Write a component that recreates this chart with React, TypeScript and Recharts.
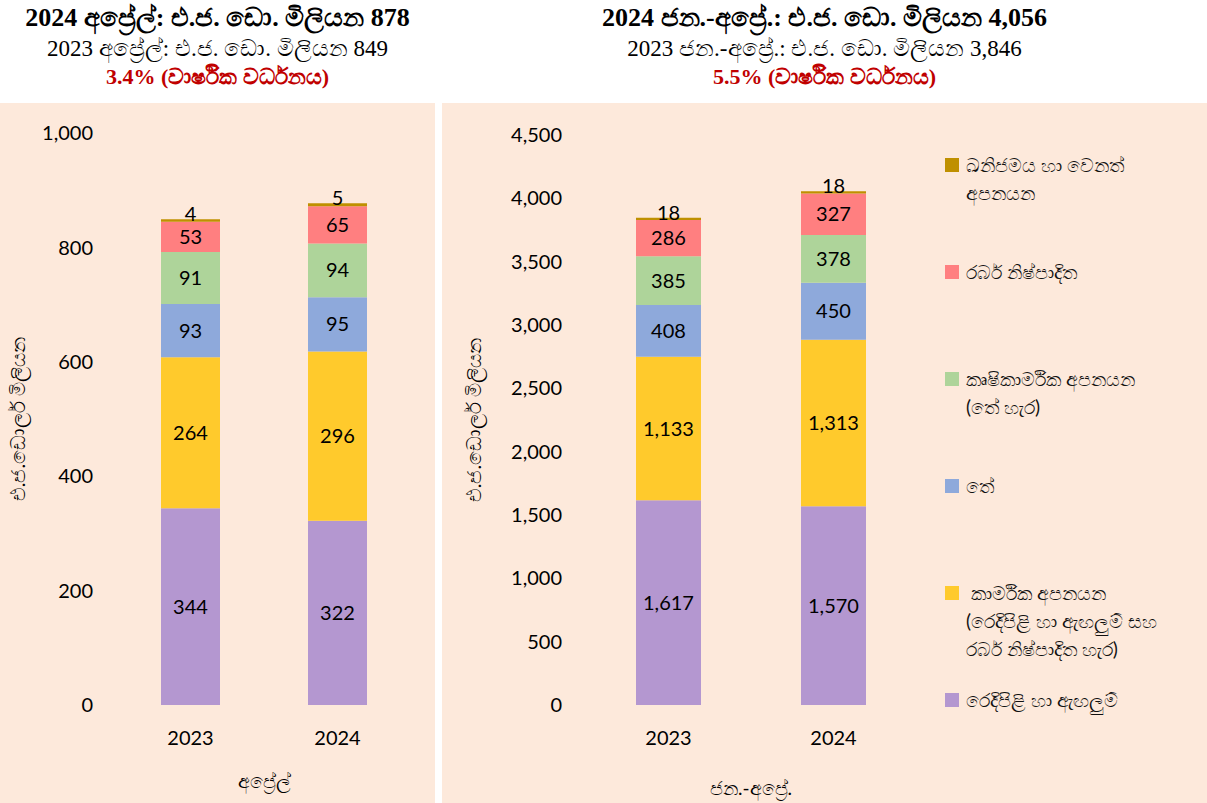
import React from 'react';
import { BarChart, Bar, XAxis, YAxis, LabelList } from 'recharts';

const YEARS = ['2023', '2024'];

const SERIES_KEYS = ['textiles', 'industrial', 'tea', 'agri', 'rubber', 'mineral'];

const SERIES_NAMES = [
  'රෙදිපිළි හා ඇඟලුම්',
  ' කාර්මික අපනයන\n(රෙදිපිළි හා ඇඟලුම් සහ\nරබර් නිෂ්පාදිත හැර)',
  'තේ',
  'කෘෂිකාර්මික අපනයන\n(තේ හැර)',
  'රබර් නිෂ්පාදිත',
  'ඛනිජමය හා වෙනත්\nඅපනයන',
];

const COLORS = ['#B497D0', '#FFCA2C', '#8EA9DB', '#AED49A', '#FF7F80', '#BF9000'];

// April, USD million
const APR_2023 = [344, 264, 93, 91, 53, 4];
const APR_2024 = [322, 296, 95, 94, 65, 5];

// January-April, USD million
const JAN_APR_2023 = [1617, 1133, 408, 385, 286, 18];
const JAN_APR_2024 = [1570, 1313, 450, 378, 327, 18];

const LEFT_TICKS = [0, 200, 400, 600, 800, 1000];
const RIGHT_TICKS = [0, 500, 1000, 1500, 2000, 2500, 3000, 3500, 4000, 4500];

const Y_TITLE = 'එ.ජ.ඩොලර් මිලියන';
const LEFT_X_TITLE = 'අප්‍රේල්';
const RIGHT_X_TITLE = 'ජන.-අප්‍රේ.';

const LEFT_HEAD = [
  '2024 අප්‍රේල්: එ.ජ. ඩො. මිලියන 878',
  '2023 අප්‍රේල්: එ.ජ. ඩො. මිලියන 849',
  '3.4% (වාර්ෂික වර්ධනය)',
];
const RIGHT_HEAD = [
  '2024 ජන.-අප්‍රේ.: එ.ජ. ඩො. මිලියන 4,056',
  '2023 ජන.-අප්‍රේ.: එ.ජ. ඩො. මිලියන 3,846',
  '5.5% (වාර්ෂික වර්ධනය)',
];

const PANEL_BG = '#FDE9DB';
const FONT = 'Lato, "Noto Sans", sans-serif';
const SERIF = '"Liberation Serif", "Times New Roman", serif';

const buildRows = (a: number[], b: number[]) =>
  [a, b].map((vals, i) => {
    const row: Record<string, number | string> = { year: YEARS[i] };
    SERIES_KEYS.forEach((k, j) => {
      row[k] = vals[j];
    });
    return row;
  });

const leftData = buildRows(APR_2023, APR_2024);
const rightData = buildRows(JAN_APR_2023, JAN_APR_2024);

const fmt = (v: number) => Number(v).toLocaleString('en-US');

const Heading: React.FC<{ lines: string[]; left: number; width: number }> = ({
  lines,
  left,
  width,
}) => (
  <div
    style={{
      position: 'absolute',
      left,
      top: 0,
      width,
      textAlign: 'center',
      fontFamily: SERIF,
      color: '#000',
    }}
  >
    <div style={{ fontSize: 26, fontWeight: 'bold', lineHeight: '34px', marginTop: 1 }}>
      {lines[0]}
    </div>
    <div style={{ fontSize: 23, lineHeight: '28px' }}>{lines[1]}</div>
    <div style={{ fontSize: 22, fontWeight: 'bold', lineHeight: '28px', color: '#C00000' }}>
      {lines[2]}
    </div>
  </div>
);

// legend sits to the right of the Jan-Apr plot, top item = top of the stack
const SideLegend: React.FC = () => {
  const order = [...SERIES_KEYS.keys()].reverse();
  return (
    <div
      style={{
        position: 'absolute',
        left: 945,
        top: 151,
        width: 262,
        fontFamily: FONT,
        fontSize: 19,
        color: '#111',
      }}
    >
      {order.map(i => (
        <div key={SERIES_KEYS[i]} style={{ position: 'relative', height: 107 }}>
          <span
            style={{
              position: 'absolute',
              left: 0,
              top: 7,
              width: 14,
              height: 14,
              backgroundColor: COLORS[i],
            }}
          />
          <div
            style={{
              position: 'absolute',
              left: 21,
              top: 0,
              lineHeight: '28px',
              whiteSpace: 'pre',
            }}
          >
            {SERIES_NAMES[i]}
          </div>
        </div>
      ))}
    </div>
  );
};

interface StackProps {
  data: Record<string, number | string>[];
  width: number;
  ticks: number[];
  domainMax: number;
  marginTop: number;
  yAxisWidth: number;
  marginRight: number;
  barSize: number;
  yTitleOffset: number;
  xTitle: string;
  xTitleOffset: number;
}

const StackChart: React.FC<StackProps> = ({
  data,
  width,
  ticks,
  domainMax,
  marginTop,
  yAxisWidth,
  marginRight,
  barSize,
  yTitleOffset,
  xTitle,
  xTitleOffset,
}) => (
  <BarChart
    width={width}
    height={700}
    data={data}
    margin={{ top: marginTop, right: marginRight, left: 0, bottom: 0 }}
  >
    <XAxis
      dataKey='year'
      height={98}
      axisLine={false}
      tickLine={false}
      tickMargin={20}
      tick={{ fill: '#000', fontSize: 20, fontFamily: FONT }}
      label={{
        value: xTitle,
        position: 'insideBottom',
        offset: xTitleOffset,
        fill: '#000',
        fontSize: 19,
        fontFamily: FONT,
      }}
    />
    <YAxis
      width={yAxisWidth}
      domain={[0, domainMax]}
      ticks={ticks}
      interval={0}
      axisLine={false}
      tickLine={false}
      tickMargin={18}
      tickFormatter={fmt}
      tick={{ fill: '#000', fontSize: 20, fontFamily: FONT }}
      label={{
        value: Y_TITLE,
        angle: -90,
        position: 'insideLeft',
        offset: yTitleOffset,
        fill: '#000',
        fontSize: 20,
        fontFamily: FONT,
        style: { textAnchor: 'middle' },
      }}
    />
    {SERIES_KEYS.map((key, i) => (
      <Bar
        key={key}
        dataKey={key}
        name={SERIES_NAMES[i]}
        stackId='a'
        fill={COLORS[i]}
        barSize={barSize}
        isAnimationActive={false}
      >
        <LabelList
          dataKey={key}
          position={i === SERIES_KEYS.length - 1 ? 'top' : 'center'}
          offset={i === SERIES_KEYS.length - 1 ? -2 : 5}
          formatter={(v: number) => fmt(v)}
          fill='#000'
          fontSize={20}
          fontFamily={FONT}
        />
      </Bar>
    ))}
  </BarChart>
);

export default function App() {
  return (
    <div
      style={{
        position: 'absolute',
        left: 0,
        top: 0,
        width: 1207,
        height: 803,
        background: '#fff',
        overflow: 'hidden',
      }}
    >
      <Heading lines={LEFT_HEAD} left={0} width={435} />
      <Heading lines={RIGHT_HEAD} left={442} width={765} />
      <div
        style={{ position: 'absolute', left: 0, top: 103, width: 435, height: 700, background: PANEL_BG }}
      >
        <StackChart
          data={leftData}
          width={435}
          ticks={LEFT_TICKS}
          domainMax={1000}
          marginTop={30}
          yAxisWidth={117}
          marginRight={24}
          barSize={59}
          yTitleOffset={18}
          xTitle={LEFT_X_TITLE}
          xTitleOffset={15}
        />
      </div>
      <div
        style={{ position: 'absolute', left: 442, top: 103, width: 765, height: 700, background: PANEL_BG }}
      >
        <StackChart
          data={rightData}
          width={765}
          ticks={RIGHT_TICKS}
          domainMax={4500}
          marginTop={32}
          yAxisWidth={144}
          marginRight={291}
          barSize={65}
          yTitleOffset={32}
          xTitle={RIGHT_X_TITLE}
          xTitleOffset={8}
        />
      </div>
      <SideLegend />
    </div>
  );
}
